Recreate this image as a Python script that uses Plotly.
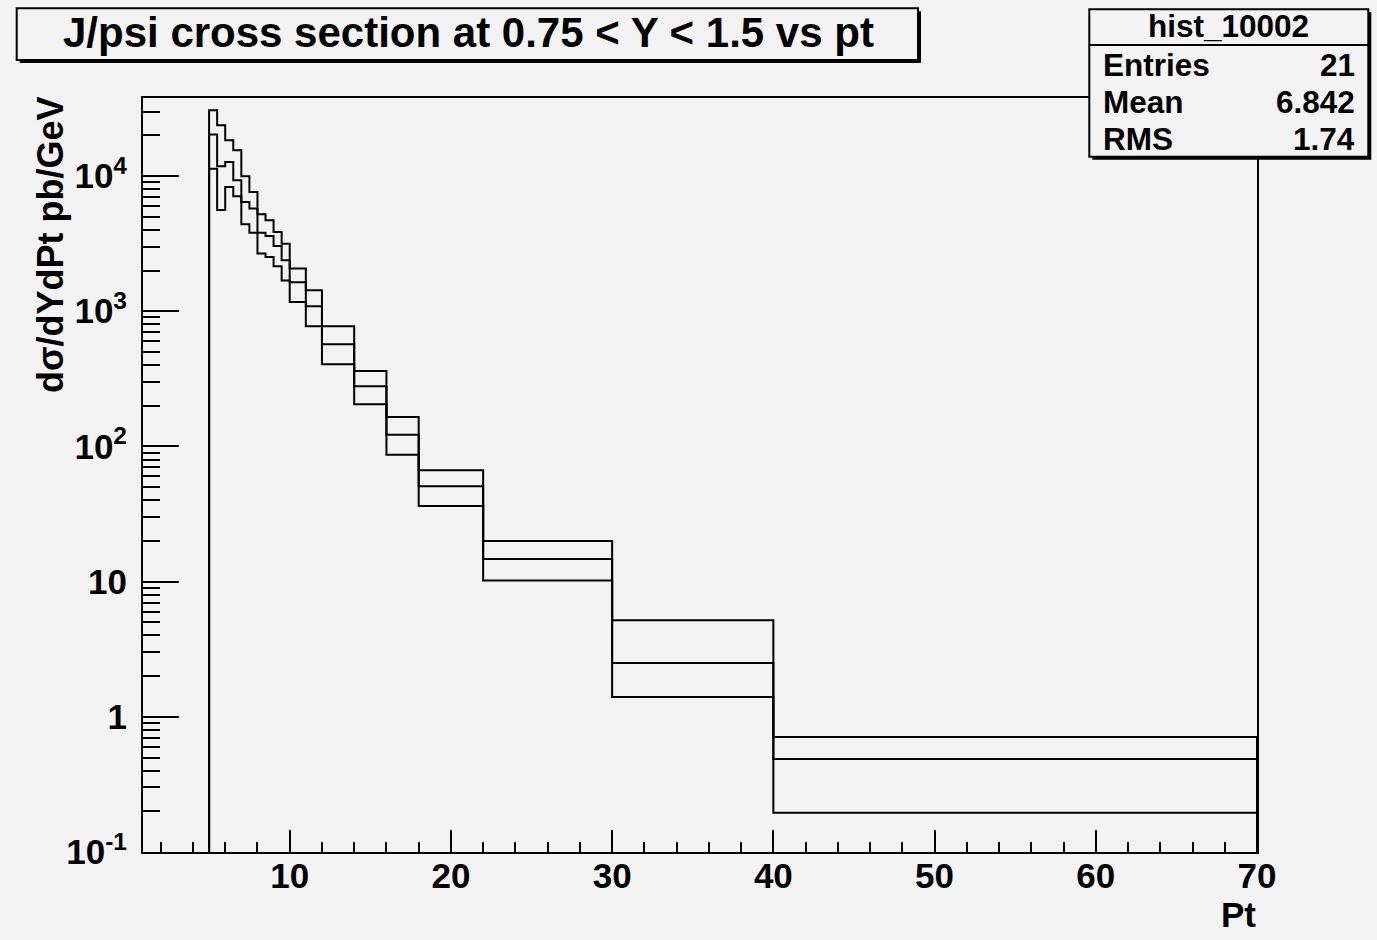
import plotly.graph_objects as go

# ---------------- data ----------------
bin_edges = [5, 5.5, 6, 6.5, 7, 7.5, 8, 8.5, 9, 9.5, 10, 11, 12, 14, 16, 18, 22, 30, 40, 70]
central = [20300, 11800, 12700, 9290, 6420, 5740, 3810, 3600, 3040, 2380,
           1640, 1090, 569, 279, 122, 50.7, 14.7, 2.50, 0.488]
upper = [30600, 23700, 18400, 15500, 9950, 7620, 5210, 4700, 3850, 3160,
         2070, 1430, 773, 361, 165, 66.5, 20.0, 5.17, 0.709]
lower = [11340, 5600, 8290, 7080, 4390, 3810, 2670, 2520, 2150, 1690,
         1170, 773, 405, 205, 86.9, 36.3, 10.2, 1.40, 0.195]

x_tickvals = [10, 20, 30, 40, 50, 60, 70]
y_tickvals = [0.1, 1, 10, 100, 1000, 10000]
y_ticktext = ["10<sup>-1</sup>", "1", "10", "10<sup>2</sup>", "10<sup>3</sup>", "10<sup>4</sup>"]

title_text = "J/psi cross section at 0.75 < Y < 1.5 vs pt"
stats_name = "hist_10002"
stats_labels = ["Entries", "Mean", "RMS"]
stats_values = ["21", "6.842", "1.74"]

# ---------------- layout geometry ----------------
W, H = 1377, 940
X0, X1, Y0, Y1 = 143, 1257, 98, 852
BG = "#f3f3f3"
FONT = "Liberation Sans"
YMIN = 0.1


def px(x):
    return (x - X0) / (X1 - X0)


def py(y):
    return (Y1 - y) / (Y1 - Y0)


def step_xy(edges, vals):
    xs = [edges[0]] + edges[:-1] + [edges[-1], edges[-1]]
    ys = [YMIN] + vals + [vals[-1], YMIN]
    return xs, ys


fig = go.Figure()
for series in (upper, central, lower):
    xs, ys = step_xy(bin_edges, series)
    fig.add_trace(go.Scatter(x=xs, y=ys, mode="lines", line_shape="hv",
                             line=dict(color="black", width=2),
                             showlegend=False, hoverinfo="skip"))

y_minor = [m * 10 ** e for e in range(-1, 5) for m in range(2, 10) if m * 10 ** e < 38000]

fig.update_layout(
    width=W, height=H,
    paper_bgcolor=BG, plot_bgcolor=BG,
    margin=dict(l=X0, r=W - X1, t=Y0, b=H - Y1, pad=0),
    font=dict(family=FONT, color="black", size=35, weight="bold"),
    showlegend=False,
    xaxis=dict(range=[0.9, 70], showgrid=False, zeroline=False,
               showline=True, linecolor="black", linewidth=2, mirror=True,
               ticks="inside", ticklen=22, tickwidth=2, tickcolor="black",
               tickmode="array", tickvals=x_tickvals, ticklabelstandoff=-8,
               tickfont=dict(family=FONT, size=35, weight="bold"),
               minor=dict(ticks="inside", ticklen=10, tickwidth=2, tickcolor="black",
                          tick0=0, dtick=2, showgrid=False)),
    yaxis=dict(type="log", range=[-1, 4.577], showgrid=False, zeroline=False,
               showline=True, linecolor="black", linewidth=2, mirror=True,
               ticks="inside", ticklen=36, tickwidth=2, tickcolor="black",
               tickmode="array", tickvals=y_tickvals, ticktext=y_ticktext,
               ticklabelstandoff=7,
               tickfont=dict(family=FONT, size=35, weight="bold"),
               minor=dict(ticks="inside", ticklen=17, tickwidth=2, tickcolor="black",
                          tickmode="array", tickvals=y_minor, showgrid=False)),
)

shapes = []
annotations = []

# title box with shadow
shapes.append(dict(type="rect", xref="paper", yref="paper",
                   x0=px(19.7), x1=px(921), y0=py(11.3), y1=py(63),
                   fillcolor="black", line=dict(width=0), layer="above"))
shapes.append(dict(type="rect", xref="paper", yref="paper",
                   x0=px(16.7), x1=px(918), y0=py(8.3), y1=py(60),
                   fillcolor=BG, line=dict(color="black", width=2), layer="above"))
annotations.append(dict(xref="paper", yref="paper", x=px(468), y=py(33),
                        text=title_text, showarrow=False, xanchor="center", yanchor="middle",
                        font=dict(family=FONT, size=42, weight="bold", color="black")))

# stats box with shadow
shapes.append(dict(type="rect", xref="paper", yref="paper",
                   x0=px(1092.3), x1=px(1371.3), y0=py(12.3), y1=py(159.7),
                   fillcolor="black", line=dict(width=0), layer="above"))
shapes.append(dict(type="rect", xref="paper", yref="paper",
                   x0=px(1089.3), x1=px(1368.3), y0=py(9.3), y1=py(156.7),
                   fillcolor=BG, line=dict(color="black", width=2), layer="above"))
shapes.append(dict(type="line", xref="paper", yref="paper",
                   x0=px(1089.3), x1=px(1368.3), y0=py(45), y1=py(45),
                   line=dict(color="black", width=2), layer="above"))
annotations.append(dict(xref="paper", yref="paper", x=px(1228.8), y=py(26),
                        text=stats_name, showarrow=False, xanchor="center", yanchor="middle",
                        font=dict(family=FONT, size=31.5, weight="bold", color="black")))
row_y = [65, 102, 139]
for lab, val, yy in zip(stats_labels, stats_values, row_y):
    annotations.append(dict(xref="paper", yref="paper", x=px(1101), y=py(yy),
                            text=lab, showarrow=False, xanchor="left", yanchor="middle",
                            font=dict(family=FONT, size=31.5, weight="bold", color="black")))
    annotations.append(dict(xref="paper", yref="paper", x=px(1357), y=py(yy),
                            text=val, showarrow=False, xanchor="right", yanchor="middle",
                            font=dict(family=FONT, size=31.5, weight="bold", color="black")))

# axis titles
annotations.append(dict(xref="paper", yref="paper", x=px(51), y=py(244),
                        text="dσ/dYdPt pb/GeV", showarrow=False, textangle=-90,
                        xanchor="center", yanchor="middle",
                        font=dict(family=FONT, size=36, weight="bold", color="black")))
annotations.append(dict(xref="paper", yref="paper", x=px(1258), y=py(915),
                        text="Pt", showarrow=False, xanchor="right", yanchor="middle",
                        font=dict(family=FONT, size=35, weight="bold", color="black")))

fig.update_layout(shapes=shapes, annotations=annotations)
fig.write_html(
    "out.html",
    config={"displayModeBar": False},
    post_script="document.body.style.margin='0';document.body.style.padding='0';"
                "document.body.style.background='#f3f3f3';",
)
